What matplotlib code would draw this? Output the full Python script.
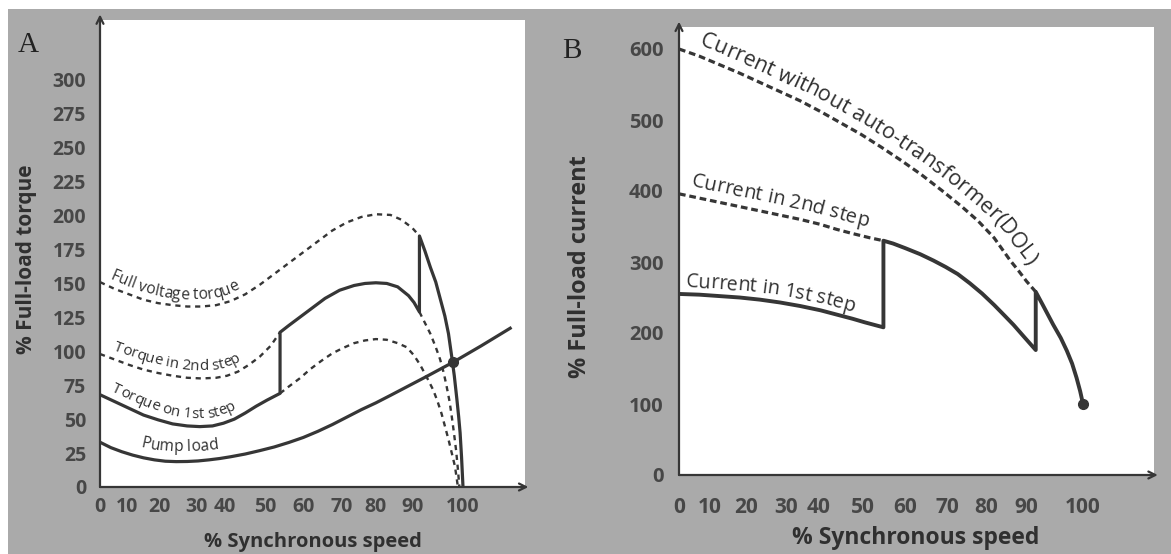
import numpy as np
import matplotlib
matplotlib.use('Agg')
import matplotlib.pyplot as plt
from matplotlib.patches import Rectangle
from matplotlib.font_manager import FontProperties

FONT = 'Open Sans'
INK = '#363636'
TXT = '#303030'
GRAY = '#aaaaaa'

# tick labels (the printed labels are not evenly spaced)
xtick_labels = ['0', '10', '20', '30', '40', '50', '60', '70', '80', '90', '100']
xtick_pos = [0, 7.5, 16.5, 26.5, 34.5, 45.5, 56, 66.5, 76, 86, 100]
a_yticks = [0, 25, 50, 75, 100, 125, 150, 175, 200, 225, 250, 275, 300]
b_yticks = [0, 100, 200, 300, 400, 500, 600]

# --- panel A : torque (% full load) vs speed ---
fv_x = [0, 4, 8, 12, 16, 20, 24, 28, 32, 36, 40, 44, 48, 52, 56, 60, 64, 68, 72, 76, 80, 83, 86, 88,
        89.5, 91, 92.5, 93.7, 95, 96, 96.9, 97.6, 98.3, 98.8, 99.2, 99.6, 100]
fv_y = [151, 146, 142, 138, 135.5, 134, 133, 133, 134, 137, 142, 149, 157, 165, 173, 181, 189, 195, 199, 201, 200.5, 197, 191, 185,
        174, 162, 151, 139, 126, 113, 96, 82, 65, 52, 40, 22, 0]
t2_x = [0, 4, 8, 12, 16, 20, 24, 28, 32, 35, 38, 41, 44, 47, 49.6,
        52, 55, 58, 62, 66, 70, 73, 76, 79, 82, 85, 86.5, 88,
        89.5, 91, 92.5, 93.7, 94.7, 95.5, 96.3, 96.9, 97.5, 98.1, 98.6, 99]
t2_y = [98, 94, 90, 86.5, 84, 82, 80.5, 80, 80.5, 82, 85, 90, 96, 104, 114,
        119, 125, 131, 139, 145, 148.5, 150, 150.5, 150, 147.5, 141, 136, 129,
        121, 113, 103, 94, 84, 74, 63, 52, 40, 27, 13, 0]
t1_x = [0, 4, 8, 12, 16, 20, 24, 27.5, 31, 34, 37, 40, 43, 46, 49.6,
        52, 55, 58, 61, 64, 67, 70, 73, 76, 79, 82, 84.5, 86.5, 88.2, 90, 91.8, 93, 94.1, 95, 96, 97, 97.8, 98.6]
t1_y = [68, 63, 58, 53, 49.5, 46.5, 45, 44.5, 45, 47, 50, 54.5, 59.5, 64, 69,
        74, 80, 87, 93, 98.5, 102.5, 106, 108, 109, 108.5, 106, 103, 97, 90, 81, 71.5, 63, 54, 45, 35, 24, 15, 0]
pl_x = [0, 3, 6, 9, 12, 15, 18, 21, 24, 27, 30, 33, 36, 40, 44, 48, 52, 56, 60, 64, 68, 72, 76, 80, 85, 90, 97.3, 105, 113]
pl_y = [33, 29, 26, 23.5, 21.5, 20, 19, 18.7, 18.8, 19.2, 20, 21, 22.3, 24.3, 26.8, 29.5, 32.8, 36.5, 41, 46, 51.5, 57, 62,
        67.5, 74.5, 81.5, 92, 104, 117]
a_jumps = [49.6, 88]
a_point = (97.3, 92)

# --- panel B : current (% full load) vs speed ---
dol_x = [0, 5, 10, 15, 20, 25, 30, 35, 40, 45, 50, 55, 60, 65, 70, 74, 78, 82, 84, 86, 88.3,
         90, 92.6, 94.5, 96, 97.3, 98.4, 99.3, 100]
dol_y = [600, 590, 578, 566, 553, 540, 527, 512, 496, 480, 462, 443, 423, 401, 378, 358, 334, 302, 288, 273, 258,
         240, 212, 193, 175, 157, 137, 118, 100]
c2_x = [0, 5, 10, 15, 20, 25, 30, 35, 39, 43, 47.3, 50.6, 53, 56, 59.7, 63, 66, 69, 72, 75, 78, 80.5, 82.8, 85.5, 88.3]
c2_y = [396, 390, 384, 378, 372, 366, 360, 353, 346, 340, 334, 330, 326, 319.5, 311, 302, 293, 283, 270, 255.7, 239.5,
        225, 211.5, 194, 176]
c1_x = [0, 5, 10, 15, 20, 25, 30, 35, 39, 43, 46, 50.6]
c1_y = [255, 254, 252, 250, 247, 243, 238, 232, 226, 220, 215, 208]
b_jumps = [50.6, 88.3]
b_point = (100, 100)

W, H = 1171, 554
fig = plt.figure(figsize=(W / 100, H / 100), dpi=100, facecolor='white')
fig.patches.append(Rectangle((8 / W, 0), 1, 1 - 9 / H, transform=fig.transFigure,
                             facecolor=GRAY, edgecolor='none', zorder=-10))
renderer = fig.canvas.get_renderer()


def px_box(l, t, r, b):
    return [l / W, 1 - b / H, (r - l) / W, (b - t) / H]


def part(x, y, lo, hi):
    x = np.asarray(x, float)
    y = np.asarray(y, float)
    m = (x >= lo) & (x <= hi)
    return x[m], y[m]


def text_w(s, fp):
    bar = renderer.get_text_width_height_descent('||', fp, ismath=False)[0]
    return renderer.get_text_width_height_descent('|' + s + '|', fp, ismath=False)[0] - bar


def curve_text(ax, s, xs, ys, x0, x1, off, weight='normal', color=TXT):
    # letters set one by one along a smoothed copy of the curve, 'off' px above it
    pts = ax.transData.transform(np.column_stack([xs, ys]))
    arc = np.r_[0, np.cumsum(np.hypot(*np.diff(pts, axis=0).T))]
    a0 = np.interp(x0, xs, arc)
    a1 = np.interp(x1, xs, arc)
    u = np.arange(max(a0 - 60, 0), min(a1 + 60, arc[-1]), 1.0)
    px = np.interp(u, arc, pts[:, 0])
    py = np.interp(u, arc, pts[:, 1])
    k = np.ones(31) / 31
    px = np.convolve(np.pad(px, 15, mode='reflect', reflect_type='odd'), k, mode='valid')
    py = np.convolve(np.pad(py, 15, mode='reflect', reflect_type='odd'), k, mode='valid')
    gx, gy = np.gradient(px), np.gradient(py)
    n = np.hypot(gx, gy)
    ox, oy = px - gy / n * off, py + gx / n * off
    oarc = np.r_[0, np.cumsum(np.hypot(np.diff(ox), np.diff(oy)))]
    b0 = np.interp(a0, u, oarc)
    b1 = np.interp(a1, u, oarc)
    fp = FontProperties(family=FONT, size=10, weight=weight)
    fp = FontProperties(family=FONT, size=10 * (b1 - b0) / text_w(s, fp), weight=weight)
    inv = ax.transData.inverted()
    for i, ch in enumerate(s):
        if ch == ' ':
            continue
        p = b0 + text_w(s[:i], fp) + text_w(ch, fp) / 2
        cx, cy = np.interp(p, oarc, ox), np.interp(p, oarc, oy)
        dx = np.interp(p + 4, oarc, ox) - np.interp(p - 4, oarc, ox)
        dy = np.interp(p + 4, oarc, oy) - np.interp(p - 4, oarc, oy)
        tx, ty = inv.transform((cx, cy))
        ax.text(tx, ty, ch, fontproperties=fp, color=color, ha='center', va='baseline',
                rotation=np.degrees(np.arctan2(dy, dx)), rotation_mode='anchor')


def fit_text(x, y, s, width, rotation=0, weight='bold', color=TXT):
    fp = FontProperties(family=FONT, size=10, weight=weight)
    size = 10 * width / text_w(s, fp)
    fig.text(x / W, 1 - y / H, s, fontfamily=FONT, fontsize=size, fontweight=weight,
             color=color, rotation=rotation, ha='center', va='center')


def setup(ax, xmax, ymax, yticks, xpad, ypad, tsize_x, tsize_y):
    ax.set_xlim(0, xmax)
    ax.set_ylim(0, ymax)
    for sp in ax.spines.values():
        sp.set_visible(False)
    ax.set_xticks(xtick_pos)
    ax.set_xticklabels(xtick_labels)
    ax.set_yticks(yticks)
    ax.tick_params(length=0, colors='#474747')
    ax.tick_params(axis='x', pad=xpad, labelsize=tsize_x)
    ax.tick_params(axis='y', pad=ypad, labelsize=tsize_y)
    for lab in ax.get_xticklabels() + ax.get_yticklabels():
        lab.set_fontfamily(FONT)
        lab.set_fontweight('bold')
    arrow = dict(arrowstyle='->,head_length=0.5,head_width=0.25', color=INK, lw=1.6,
                 shrinkA=0, shrinkB=0)
    ax.annotate('', xy=(0, 1.012), xytext=(0, 0), xycoords='axes fraction', arrowprops=arrow)
    ax.annotate('', xy=(1.008, 0), xytext=(0, 0), xycoords='axes fraction', arrowprops=arrow)


# ---------------- panel A ----------------
axA = fig.add_axes(px_box(100, 20, 525, 487))
setup(axA, 425 / 3.63, 467 / 1.357, a_yticks, 7, 10, 14, 14)

dashA = dict(color=INK, lw=1.7, linestyle=(0, (2.2, 2.0)), solid_capstyle='butt')
solidA = dict(color=INK, lw=2.3, solid_joinstyle='round')
axA.plot(*part(fv_x, fv_y, 0, a_jumps[1]), **dashA)
axA.plot(*part(t2_x, t2_y, 0, a_jumps[0]), **dashA)
axA.plot(*part(t2_x, t2_y, a_jumps[1], 100), **dashA)
axA.plot(*part(t1_x, t1_y, a_jumps[0], 100), **dashA)
pieces = [part(t1_x, t1_y, 0, a_jumps[0]), part(t2_x, t2_y, a_jumps[0], a_jumps[1]),
          part(fv_x, fv_y, a_jumps[1], 100)]
axA.plot(np.concatenate([p[0] for p in pieces]), np.concatenate([p[1] for p in pieces]), **solidA)
axA.plot(pl_x, pl_y, **solidA)
axA.plot(*a_point, 'o', color=INK, ms=7)

curve_text(axA, 'Full voltage torque', fv_x, fv_y, 1.9, 39.5, 7)
curve_text(axA, 'Torque in 2nd step', t2_x, t2_y, 2.8, 40, 8)
curve_text(axA, 'Torque on 1st step', t1_x, t1_y, 2.2, 38.6, 8)
curve_text(axA, 'Pump load', pl_x, pl_y, 10.5, 33, 10)

fit_text(27, 259, '% Full-load torque', 190, rotation=90)
fit_text(313, 542, '% Synchronous speed', 218)
fig.text(28 / W, 1 - 45 / H, 'A', fontfamily='Liberation Serif', fontsize=21,
         color='#222222', ha='center', va='center')

# ---------------- panel B ----------------
axB = fig.add_axes(px_box(679, 27, 1154, 475))
setup(axB, 475 / 4.04, 448 / 0.71, b_yticks, 16, 11, 15, 14.5)

dashB = dict(color=INK, lw=2.3, linestyle=(0, (2.1, 1.2)), solid_capstyle='butt')
solidB = dict(color=INK, lw=2.8, solid_joinstyle='round')
axB.plot(*part(dol_x, dol_y, 0, b_jumps[1]), **dashB)
axB.plot(*part(c2_x, c2_y, 0, b_jumps[0]), **dashB)
pieces = [part(c1_x, c1_y, 0, b_jumps[0]), part(c2_x, c2_y, b_jumps[0], b_jumps[1]),
          part(dol_x, dol_y, b_jumps[1], 100)]
axB.plot(np.concatenate([p[0] for p in pieces]), np.concatenate([p[1] for p in pieces]), **solidB)
axB.plot(*b_point, 'o', color=INK, ms=7)

curve_text(axB, 'Current without auto-transformer(DOL)', dol_x, dol_y, 4, 84, 10)
curve_text(axB, 'Current in 2nd step', c2_x, c2_y, 2.3, 46, 10)
curve_text(axB, 'Current in 1st step', c1_x, c1_y, 1.5, 43, 7)

fit_text(580, 267, '% Full-load current', 223, rotation=90)
fit_text(916, 538, '% Synchronous speed', 247)
fig.text(572 / W, 1 - 51 / H, 'B', fontfamily='Liberation Serif', fontsize=21,
         color='#222222', ha='center', va='center')

fig.savefig('out.png', dpi=100, facecolor=fig.get_facecolor())
